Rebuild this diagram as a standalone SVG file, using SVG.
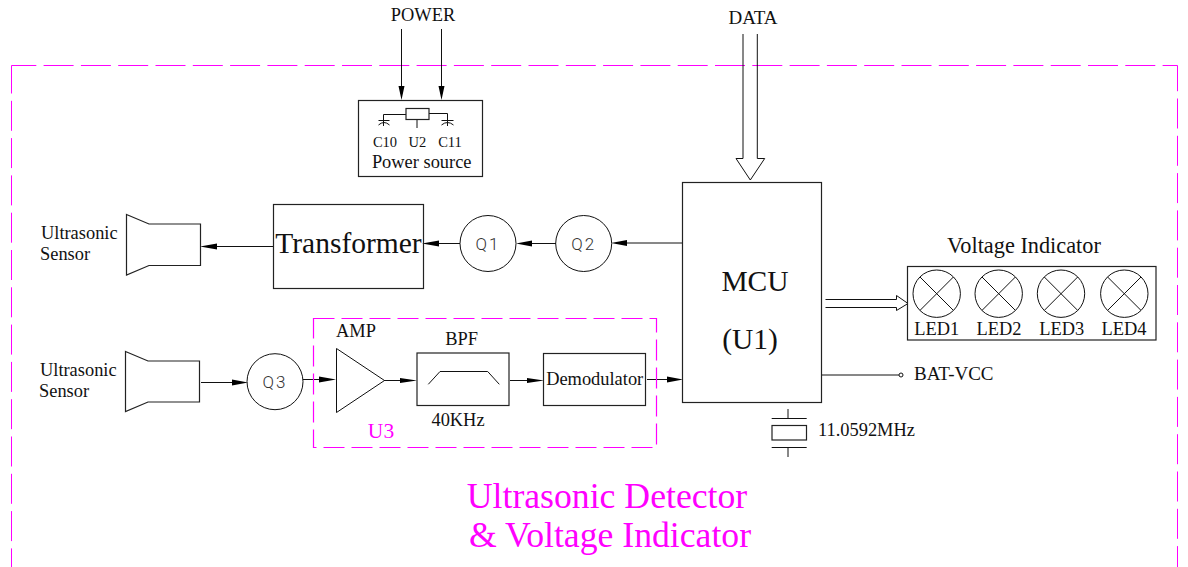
<svg xmlns="http://www.w3.org/2000/svg" width="1188" height="567" viewBox="0 0 1188 567">
<style>
text{font-family:"Liberation Serif","Times New Roman",serif;fill:#111;font-size:18.4px}
.b{fill:none;stroke:#222;stroke-width:1.2}
.c{fill:none;stroke:#111;stroke-width:1}
.m{fill:none;stroke:#f0f;stroke-width:1}
text.q{font-family:Roboto,sans-serif;font-weight:300;font-size:17px;letter-spacing:2px;fill:#333;text-anchor:middle}
text.big{font-size:29.5px;text-anchor:middle}
text.tm{text-anchor:middle}
text.sm{font-size:14.5px;text-anchor:middle}
text.title{font-size:35.7px;fill:#f0f;text-anchor:middle}
</style>
<g id="frame">
<path class="m" stroke-dasharray="30 7.3" stroke-dashoffset="5.2" d="M11.500 65.500H1177.500"/>
<path class="m" stroke-dasharray="30 7.3" stroke-dashoffset="2" d="M11.500 65.500V567"/>
<path class="m" stroke-dasharray="30 7.3" stroke-dashoffset="4.3" d="M1177.500 65.500V567"/>
</g>
<g id="connectors">
<path class="c" d="M401.500 29V87M441.500 29V87"/>
<path d="M398.500 86H404.500L401.500 100ZM438.500 86H444.500L441.500 100Z" fill="#000"/>
<path class="c" d="M743 34V158.500H736L750.300 180L764.700 158.500H757.300V34"/>
<path class="c" d="M682 243H625"/><path d="M611 243L627 240V246Z" fill="#000"/>
<path class="c" d="M556 243.500H530"/><path d="M516 243.500L532 240.500V246.500Z" fill="#000"/>
<path class="c" d="M460 243.500H438"/><path d="M422 243.500L439 240.500V246.500Z" fill="#000"/>
<path class="c" d="M273 246.500H216"/><path d="M200 246.500L217 243.500V249.500Z" fill="#000"/>
<path class="c" d="M201 382.500H232"/><path d="M248 382.500L232 379.500V385.500Z" fill="#000"/>
<path class="c" d="M303 379.500H320"/><path d="M336 379.500L319 376.500V382.500Z" fill="#000"/>
<path class="c" d="M384 380.500H401"/><path d="M417 380.500L400 378V383Z" fill="#000"/>
<path class="c" d="M510 380.500H527"/><path d="M544 380.500L527 378V383Z" fill="#000"/>
<path class="c" d="M647 379.500H667"/><path d="M683 379.500L667 376.500V382.500Z" fill="#000"/>
<path class="c" d="M825.500 299.500H896.500V295.500L908 303.500L896.500 310.500V307.500H825.500"/>
<path class="c" d="M822 375H899"/>
<circle cx="901" cy="375" r="2" fill="#fff" stroke="#111"/>
<path class="c" d="M788 409V418.500M788 447.500V457"/>
</g>
<g id="power-label"><text class="tm" x="423" y="21">POWER</text></g>
<g id="data-label"><text class="tm" x="753" y="24" style="font-size:19px">DATA</text></g>
<g id="power-source">
<rect class="b" x="358.500" y="100.500" width="124" height="76"/>
<path class="c" d="M383.500 126V114.500H406M429 113.500H447.500V126M417 119.500V128M378.500 120.500H389.500M378.500 125Q384 120 389.500 125M441.500 120.500H453.500M441.500 125Q447.500 120 453.500 125"/>
<rect class="b" x="406" y="108.500" width="23" height="11"/>
<text class="sm" x="385" y="147">C10</text>
<text class="sm" x="417.300" y="147">U2</text>
<text class="sm" x="450" y="147">C11</text>
<text class="tm" x="421.700" y="168">Power source</text>
</g>
<g id="sensor-top">
<path class="b" d="M126.500 214.500L149 224H200.500V265.500H149L126.500 275Z"/>
<text x="41" y="239">Ultrasonic</text>
<text x="40" y="260">Sensor</text>
</g>
<g id="transformer">
<rect class="b" x="273.500" y="204.500" width="150" height="84"/>
<text class="big" x="348.500" y="253">Transformer</text>
</g>
<g id="q1"><circle class="c" cx="488" cy="243.500" r="28"/><text class="q" x="488" y="249.500">Q1</text></g>
<g id="q2"><circle class="c" cx="583.700" cy="243.500" r="28"/><text class="q" x="583.700" y="249.500">Q2</text></g>
<g id="mcu">
<rect class="b" x="682.500" y="182.500" width="139" height="220"/>
<text class="big" x="755" y="291">MCU</text>
<text class="big" x="750" y="349">(U1)</text>
</g>
<g id="sensor-bottom">
<path class="b" d="M125.500 351.500L148 361H199.500V402H148L125.500 411.500Z"/>
<text x="40" y="376">Ultrasonic</text>
<text x="39" y="397">Sensor</text>
</g>
<g id="q3"><circle class="c" cx="275" cy="381.700" r="28"/><text class="q" x="275" y="387.500">Q3</text></g>
<g id="u3">
<rect class="m" x="313.500" y="318.500" width="343" height="129" stroke-dasharray="21 7" style="stroke-width:1.2"/>
<text x="381" y="438" text-anchor="middle" style="font-size:21.500px;fill:#f0f">U3</text>
</g>
<g id="amp">
<path class="c" d="M336.500 348.500L384.500 380.500L336.500 412.500Z"/>
<text class="tm" x="356" y="337">AMP</text>
</g>
<g id="bpf">
<rect class="b" x="417" y="353" width="92" height="52.500"/>
<path class="c" d="M428.300 384.300L440 371.500H487.700L499.300 384.300"/>
<text class="tm" x="461.700" y="345">BPF</text>
<text class="tm" x="458" y="426">40KHz</text>
</g>
<g id="demodulator">
<rect class="b" x="543.500" y="353.500" width="102" height="52"/>
<text class="tm" x="594.700" y="385">Demodulator</text>
</g>
<g id="crystal">
<path class="c" d="M771.700 418.500H806.700M771.700 447.500H806.700"/>
<rect class="b" x="772" y="425.500" width="34.500" height="14.500"/>
<text x="818" y="436">11.0592MHz</text>
</g>
<g id="bat-vcc"><text x="914" y="380" style="font-size:19px">BAT-VCC</text></g>
<g id="voltage-indicator">
<text x="1024" y="253" text-anchor="middle" style="font-size:22.300px">Voltage Indicator</text>
<rect class="b" x="907.500" y="266.500" width="248.500" height="73.500"/>
<g><circle class="c" cx="936.700" cy="293.700" r="23.700"/><path class="c" d="M920 277L953.400 310.400M953.400 277L920 310.400"/></g>
<g><circle class="c" cx="998.700" cy="293.700" r="23.700"/><path class="c" d="M982 277L1015.400 310.400M1015.400 277L982 310.400"/></g>
<g><circle class="c" cx="1061" cy="293.700" r="23.700"/><path class="c" d="M1044.300 277L1077.700 310.400M1077.700 277L1044.300 310.400"/></g>
<g><circle class="c" cx="1124.300" cy="293.700" r="23.700"/><path class="c" d="M1107.600 277L1141 310.400M1141 277L1107.600 310.400"/></g>
<text class="tm" x="936.700" y="335">LED1</text>
<text class="tm" x="999" y="335">LED2</text>
<text class="tm" x="1061.700" y="335">LED3</text>
<text class="tm" x="1124" y="335">LED4</text>
</g>
<g id="title">
<text class="title" x="607" y="508">Ultrasonic Detector</text>
<text class="title" x="610" y="547">&amp; Voltage Indicator</text>
</g>
</svg>
